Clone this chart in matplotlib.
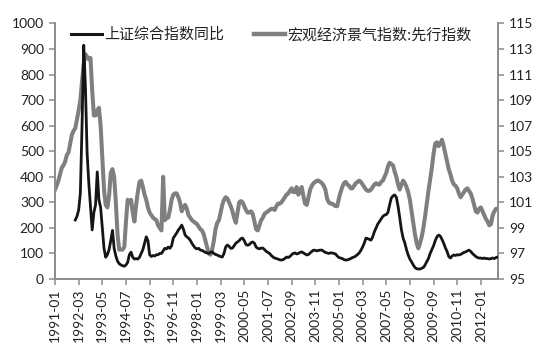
import numpy as np
import pandas as pd
import matplotlib
matplotlib.use('Agg')
import matplotlib.pyplot as plt
from matplotlib.lines import Line2D

plt.rcParams['font.family'] = ['Lato', 'Noto Sans CJK SC', 'DejaVu Sans']

# monthly categories 1991-01 .. 2012-11
months = pd.date_range('1991-01-01', '2012-11-01', freq='MS').strftime('%Y-%m').tolist()

# 宏观经济景气指数:先行指数 (right axis), one row per year
leading = [
    102.0, 102.3, 102.7, 103.2, 103.7, 103.9, 104.2, 104.7, 104.9, 105.6, 106.3, 106.6,  # 1991
    106.8, 107.5, 108.2, 109.0, 110.5, 111.8, 112.6, 112.4, 112.2, 112.3, 109.8, 107.8,  # 1992
    107.8, 108.2, 108.4, 107.0, 104.5, 102.0, 100.8, 100.6, 101.5, 103.3, 103.6, 103.0,  # 1993
    101.0, 98.5, 97.3, 97.3, 97.3, 97.5, 99.5, 101.2, 101.0, 101.2, 100.2, 99.5,  # 1994
    100.8, 101.8, 102.6, 102.7, 102.2, 101.6, 101.2, 100.6, 100.2, 100.0, 99.8, 99.7,  # 1995
    99.6, 99.2, 99.0, 98.8, 103.0, 99.6, 99.8, 99.8, 100.4, 101.2, 101.6, 101.7,  # 1996
    101.7, 101.4, 101.0, 100.3, 100.6, 100.8, 100.5, 100.0, 99.8, 99.6, 99.5, 99.4,  # 1997
    99.3, 99.1, 98.9, 98.8, 98.5, 98.0, 97.5, 97.0, 96.9, 97.3, 98.0, 98.9,  # 1998
    99.4, 99.6, 100.2, 100.8, 101.2, 101.4, 101.3, 101.0, 100.7, 100.3, 99.8, 99.4,  # 1999
    100.2, 101.0, 101.1, 101.0, 100.7, 100.4, 100.2, 100.2, 100.3, 100.1, 99.5, 98.9,  # 2000
    98.8, 99.2, 99.6, 99.8, 100.1, 100.2, 100.3, 100.4, 100.5, 100.5, 100.4, 100.7,  # 2001
    100.9, 100.9, 101.0, 101.2, 101.4, 101.6, 101.7, 101.9, 102.1, 101.8, 101.8, 102.2,  # 2002
    101.6, 101.9, 102.2, 101.5, 100.9, 100.8, 101.4, 102.0, 102.3, 102.5, 102.6, 102.7,  # 2003
    102.7, 102.6, 102.5, 102.3, 102.0, 101.3, 101.0, 100.9, 100.9, 100.8, 100.7, 100.7,  # 2004
    101.3, 101.8, 102.2, 102.5, 102.6, 102.4, 102.3, 102.1, 102.1, 102.3, 102.5, 102.6,  # 2005
    102.7, 102.6, 102.4, 102.2, 102.0, 101.9, 101.9, 102.0, 102.2, 102.4, 102.5, 102.4,  # 2006
    102.4, 102.6, 102.7, 103.0, 103.3, 103.8, 104.1, 104.0, 103.9, 103.4, 103.0, 102.4,  # 2007
    102.0, 102.4, 102.7, 102.5, 102.2, 101.8, 101.2, 100.3, 99.4, 98.5, 97.8, 97.4,  # 2008
    97.8, 98.3, 99.0, 99.9, 100.9, 101.9, 102.8, 103.7, 104.8, 105.6, 105.7, 105.4,  # 2009
    105.6, 105.9, 105.4, 104.8, 104.2, 103.6, 103.2, 102.7, 102.4, 102.3, 102.1, 101.7,  # 2010
    101.4, 101.6, 101.8, 102.0, 102.1, 101.9, 101.7, 101.3, 100.8, 100.3, 100.2, 100.5,  # 2011
    100.6, 100.3, 100.0, 99.7, 99.5, 99.2, 99.3, 100.0, 100.3, 100.5, 100.5,  # 2012
]

# 上证综合指数同比 (left axis), starts 1992-01
sse_start = '1992-01'
sse_yoy = [
    231, 245, 270, 336, 600, 915, 751, 493, 376, 282, 192, 260,  # 1992
    290, 419, 310, 280, 200, 120, 85, 95, 115, 150, 190, 120,  # 1993
    90, 70, 60, 55, 52, 50, 55, 65, 95, 105, 85, 78,  # 1994
    80, 78, 85, 100, 115, 140, 165, 150, 95, 88, 92, 90,  # 1995
    95, 95, 100, 100, 110, 120, 118, 125, 120, 130, 160, 170,  # 1996
    180, 192, 200, 211, 195, 172, 165, 160, 152, 140, 130, 121,  # 1997
    118, 120, 113, 112, 108, 104, 102, 100, 104, 106, 100, 96,  # 1998
    94, 90, 88, 86, 100, 125, 133, 128, 120, 121, 130, 140,  # 1999
    145, 150, 158, 160, 150, 135, 132, 135, 142, 145, 140, 125,  # 2000
    120, 118, 121, 121, 115, 108, 104, 100, 92, 86, 82, 80,  # 2001
    78, 75, 74, 76, 80, 86, 84, 88, 95, 100, 102, 98,  # 2002
    100, 104, 106, 102, 98, 94, 96, 102, 108, 113, 112, 110,  # 2003
    112, 113, 113, 108, 104, 102, 100, 102, 102, 100, 98, 90,  # 2004
    84, 82, 80, 76, 74, 75, 77, 80, 84, 86, 90, 96,  # 2005
    102, 112, 125, 140, 160, 158, 155, 152, 165, 185, 200, 215,  # 2006
    225, 235, 245, 250, 252, 260, 290, 317, 325, 329, 320, 285,  # 2007
    240, 192, 160, 141, 115, 94, 78, 67, 55, 45, 40, 39,  # 2008
    39, 42, 45, 55, 68, 80, 100, 115, 130, 150, 165, 172,  # 2009
    168, 155, 140, 122, 108, 88, 82, 90, 94, 92, 95, 94,  # 2010
    96, 100, 104, 106, 110, 113, 108, 100, 94, 88, 84, 82,  # 2011
    82, 80, 82, 80, 80, 78, 80, 82, 80, 84, 86,  # 2012
]

x = np.arange(len(months))
i0 = months.index(sse_start)
x_sse = x[i0:i0 + len(sse_yoy)]

axis_color = '#8c8c8c'
black = '#151515'
gray = '#7f7f7f'

fig = plt.figure(figsize=(5.5, 3.57), dpi=100)
ax = fig.add_axes([0.1, 0.2185, 0.805, 0.7157])
ax2 = ax.twinx()

ax2.plot(x, leading, color=gray, linewidth=2.9, solid_joinstyle='round', zorder=2)
ax.plot(x_sse, sse_yoy, color=black, linewidth=2.0, solid_joinstyle='round', zorder=3)
ax.set_zorder(ax2.get_zorder() + 1)
ax.patch.set_visible(False)

ax.set_xlim(0, len(months) - 1)
ax.set_ylim(0, 1000)
ax.set_yticks(np.arange(0, 1001, 100))
ax2.set_ylim(95, 115)
ax2.set_yticks(np.arange(95, 116, 2))

step = 14
ax.set_xticks(x[::step])
ax.set_xticklabels(months[::step], rotation=90)

for a in (ax, ax2):
    for s in a.spines.values():
        s.set_color(axis_color)
        s.set_linewidth(1.2)
    a.spines['top'].set_visible(False)
    a.tick_params(colors=axis_color, labelcolor='#222222', labelsize=10,
                  length=4, width=1.1, direction='out', pad=4)
ax.tick_params(axis='x', pad=3)

handles = [Line2D([], [], color=black, linewidth=2.2),
           Line2D([], [], color=gray, linewidth=3.2)]
labels = ['上证综合指数同比', '宏观经济景气指数:先行指数']
leg = ax.legend(handles, labels, loc='center left', bbox_to_anchor=(0.036, 0.955),
                ncol=2, frameon=False, handlelength=2.1, handletextpad=0.1,
                columnspacing=2.0, borderaxespad=0, borderpad=0,
                prop={'family': ['Noto Sans CJK SC', 'DejaVu Sans'], 'size': 10.8})
for t in leg.get_texts():
    t.set_color('#222222')

fig.savefig('out.png', dpi=100)
